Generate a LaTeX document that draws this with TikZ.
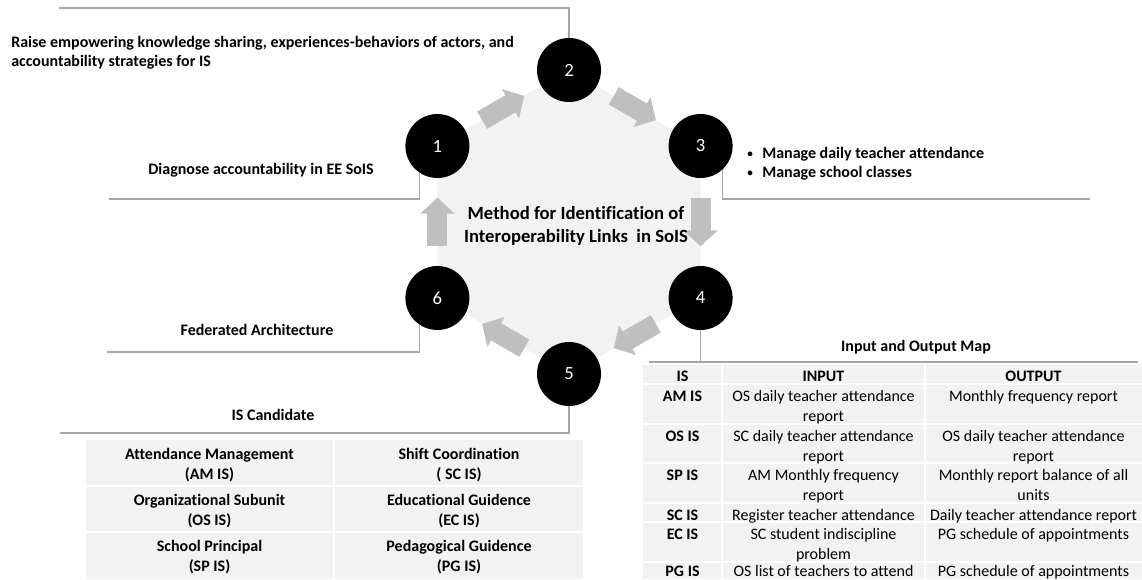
\documentclass[tikz,border=0pt]{standalone}
\usepackage{fontspec}
\setmainfont{Carlito}[Ligatures=NoCommon]
\usepackage{tikz}
\usetikzlibrary{calc,arrows.meta}
\definecolor{hexfill}{HTML}{F2F2F2}
\definecolor{flowgray}{HTML}{BFBFBF}
\definecolor{leadgray}{HTML}{A6A6A6}
\definecolor{cellgray}{HTML}{F2F2F2}
\newcommand{\smallbullet}{\makebox[11.25pt][l]{\raisebox{.12ex}{\scalebox{.7}{\textbullet}}}}

\begin{document}
\begin{tikzpicture}[x=.75pt,y=-.75pt,
	numdot/.style={circle,fill=black,minimum size=48pt,inner sep=0pt,text=white,font=\fontsize{14}{16}\selectfont},
	flow/.style={draw=flowgray,line width=15pt,-{Triangle[length=12pt,width=25pt]}},
	leader/.style={draw=leadgray,line width=1.1pt},
	lbl/.style={font=\bfseries\fontsize{12}{14.6}\selectfont,inner sep=0pt},
	title/.style={font=\bfseries\fontsize{14}{17.25}\selectfont,align=center,inner sep=0pt},
	cell/.style={font=\fontsize{12}{14.6}\selectfont,align=center,inner sep=0pt,anchor=north},
	cellbold/.style={cell,font=\bfseries\fontsize{12}{14.6}\selectfont}]

	\useasboundingbox (0,0) rectangle (1142,579);

	\coordinate (p1) at (437.4,146);
	\coordinate (p2) at (569,70);
	\coordinate (p3) at (700.6,146);
	\coordinate (p4) at (700.6,298);
	\coordinate (p5) at (569,374);
	\coordinate (p6) at (437.4,298);
	\fill[hexfill] (p1) -- (p2) -- (p3) -- (p4) -- (p5) -- (p6) -- cycle;

	\foreach \k in {1,...,6}
		\node[numdot] (c\k) at (p\k) {\k};

	\draw[flow] ($(c1)!.34!(c2)$) -- ($(c1)!.66!(c2)$);
	\draw[flow] ($(c2)!.34!(c3)$) -- ($(c2)!.66!(c3)$);
	\draw[flow] ($(c3)!.34!(c4)$) -- ($(c3)!.66!(c4)$);
	\draw[flow] ($(c4)!.34!(c5)$) -- ($(c4)!.66!(c5)$);
	\draw[flow] ($(c5)!.34!(c6)$) -- ($(c5)!.66!(c6)$);
	\draw[flow] ($(c6)!.34!(c1)$) -- ($(c6)!.66!(c1)$);

	\node[title] (method) at (576,225.5) {Method for Identification of\\Interoperability Links\ \ in SoIS};

	\coordinate (e1) at (109,199);
	\coordinate (e2) at (59,8);
	\coordinate (e3) at (1090,199);
	\coordinate (m4a) at (649,362);
	\coordinate (m4b) at (1138,362);
	\coordinate (e5) at (60,433);
	\coordinate (e6) at (107,352);
	\draw[leader] (c1.236) |- (e1);
	\draw[leader] (c2.north) |- (e2);
	\draw[leader] (c3.-47) |- (e3);
	\draw[leader] (c4.south) -- (c4.south |- m4a);
	\draw[leader] (m4a) -- (m4b);
	\draw[leader] (c5.south) |- (e5);
	\draw[leader] (c6.236) |- (e6);

	\node[lbl,anchor=west,align=left] (raise) at (11,52.5) {Raise empowering knowledge sharing, experiences-behaviors of actors, and\\accountability strategies for IS};
	\node[lbl] (diag) at (261,170) {Diagnose accountability in EE SoIS};
	\node[lbl,anchor=west,align=left] (manage) at (747,163.5) {\smallbullet Manage daily teacher attendance\\\smallbullet Manage school classes};
	\node[lbl] (fed) at (257,330) {Federated Architecture};
	\node[lbl] (cand) at (273,415) {IS Candidate};
	\node[lbl] (iomap) at (916,347) {Input and Output Map};

	\fill[cellgray] (86,440) rectangle (583,579);
	\draw[white,line width=1.5pt] (86,486) -- (583,486);
	\draw[white,line width=1.5pt] (86,532) -- (583,532);
	\draw[white,line width=1.5pt] (334,440) -- (334,579);
	\node[lbl,align=center] (am) at (209.5,465) {Attendance Management\\(AM IS)};
	\node[lbl,align=center] (sc) at (459,465) {Shift Coordination\\( SC IS)};
	\node[lbl,align=center] (os) at (209.5,511) {Organizational Subunit\\(OS IS)};
	\node[lbl,align=center] (ec) at (459,511) {Educational Guidence\\(EC IS)};
	\node[lbl,align=center] (sp) at (209.5,557) {School Principal\\(SP IS)};
	\node[lbl,align=center] (pg) at (459,557) {Pedagogical Guidence\\(PG IS)};

	\fill[cellgray] (643,365) rectangle (1142,579);
	\foreach \yy in {384,424,463,503,522,562}
		\draw[white,line width=1.5pt] (643,\yy) -- (1142,\yy);
	\foreach \xx in {722,925}
		\draw[white,line width=1.5pt] (\xx,365) -- (\xx,579);
	\node[cellbold] (hdis) at (682.5,367.5) {\strut IS};
	\node[cellbold] (hdin) at (823.5,367.5) {\strut INPUT};
	\node[cellbold] (hdout) at (1033.5,367.5) {\strut OUTPUT};
	\foreach \yt/\id/\inp/\outp in {
		388/AM/{OS daily teacher attendance\\report}/{Monthly frequency report},
		428/OS/{SC daily teacher attendance\\report}/{OS daily teacher attendance\\report},
		467/SP/{AM Monthly frequency\\report}/{Monthly report balance of all\\units},
		507/SC/{Register teacher attendance}/{Daily teacher attendance report},
		526/EC/{SC student indiscipline\\problem}/{PG schedule of appointments},
		563/PG/{OS list of teachers to attend}/{PG schedule of appointments}}
	{
		\node[cellbold] (is\id) at (682.5,\yt) {\strut\id\ IS};
		\node[cell] (in\id) at (823.5,\yt) {\strut\inp};
		\node[cell] (out\id) at (1033.5,\yt) {\strut\outp};
	}

\end{tikzpicture}
\end{document}
